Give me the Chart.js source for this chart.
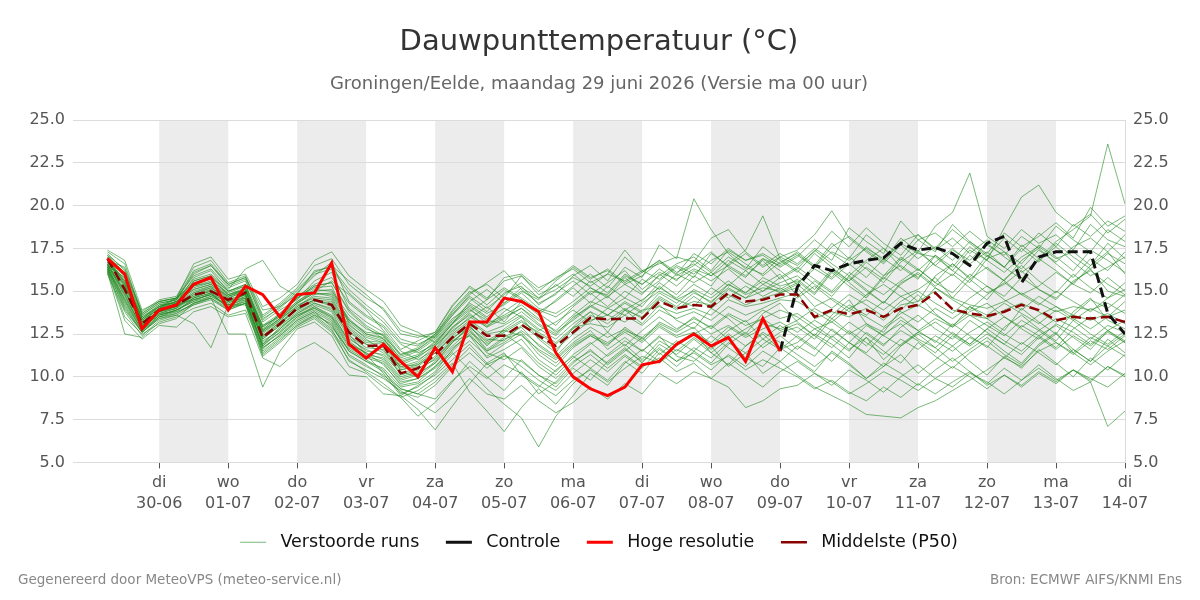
<!DOCTYPE html>
<html>
<head>
<meta charset="utf-8">
<title>Dauwpunttemperatuur</title>
<script src="https://cdn.jsdelivr.net/npm/chart.js@4.4.1/dist/chart.umd.min.js"></script>
<style>
  html, body { margin: 0; padding: 0; background: #fff; }
  #wrap { position: relative; width: 1200px; height: 600px; font-family: "DejaVu Sans", sans-serif; }
  .foot { position: absolute; top: 571px; font-size: 13.5px; color: #888; }
</style>
</head>
<body>
<div id="wrap">
  <canvas id="chart" width="1200" height="600"></canvas>
  <div class="foot" style="left:18px">Gegenereerd door MeteoVPS (meteo-service.nl)</div>
  <div class="foot" style="right:18px">Bron: ECMWF AIFS/KNMI Ens</div>
</div>
<script>
// hours after 29-06 00:00, every 6 h
const hours = [6, 12, 18, 24, 30, 36, 42, 48, 54, 60, 66, 72, 78, 84, 90, 96, 102, 108, 114, 120,
  126, 132, 138, 144, 150, 156, 162, 168, 174, 180, 186, 192, 198, 204, 210, 216, 222, 228, 234, 240,
  246, 252, 258, 264, 270, 276, 282, 288, 294, 300, 306, 312, 318, 324, 330, 336, 342, 348, 354, 360];

const tickHours = [24, 48, 72, 96, 120, 144, 168, 192, 216, 240, 264, 288, 312, 336, 360];
const tickDays = ["di", "wo", "do", "vr", "za", "zo", "ma", "di", "wo", "do", "vr", "za", "zo", "ma", "di"];
const tickDates = ["30-06", "01-07", "02-07", "03-07", "04-07", "05-07", "06-07", "07-07", "08-07", "09-07", "10-07", "11-07", "12-07", "13-07", "14-07"];
const shadeStart = [24, 72, 120, 168, 216, 264, 312];

// Hoge resolutie (to 09-07)
const hires = [16.9, 16.0, 12.8, 13.9, 14.2, 15.4, 15.8, 13.9, 15.3, 14.8, 13.5, 14.8, 14.9, 16.65,
  11.9, 11.1, 11.9, 10.9, 10.0, 11.7, 10.3, 13.2, 13.2, 14.6, 14.4, 13.8, 11.4, 10.0, 9.3, 8.9,
  9.4, 10.7, 10.9, 11.9, 12.5, 11.8, 12.3, 10.9, 13.4, 11.5];

// Controle, visible from 09-07 on
const controleStart = 240;
const controle = [11.5, 15.25, 16.5, 16.2, 16.6, 16.8, 16.95, 17.8, 17.4, 17.55, 17.2, 16.5, 17.8, 18.2,
  15.5, 17.0, 17.3, 17.3, 17.3, 13.7, 12.5];

const p50 = [16.9, 15.1, 13.1, 13.9, 14.2, 14.8, 15.0, 14.5, 14.9, 12.3, 13.1, 14.0, 14.5, 14.2,
  12.6, 11.8, 11.85, 10.2, 10.5, 11.3, 12.3, 13.1, 12.4, 12.4, 13.05, 12.4, 11.8, 12.6, 13.45, 13.35,
  13.4, 13.4, 14.4, 14.0, 14.2, 14.1, 14.9, 14.4, 14.5, 14.8,
  14.8, 13.5, 13.9, 13.65, 13.9, 13.5, 14.0, 14.2, 14.9, 13.95, 13.7, 13.55, 13.8, 14.2, 13.9, 13.3,
  13.5, 13.4, 13.5, 13.2];

// verstoorde runs
const runs = [
  [16.5,15.8,13.0,13.7,14.0,15.6,15.9,14.8,15.2,13.0,13.5,14.3,15.0,15.6, 14.8,13.9,12.7,11.5,11.0,11.6,12.9,13.8,14.5,15.2,14.6,13.9,13.5,14.2,15.0,14.8,15.9,15.4,16.1,15.7,16.3,15.9,16.8,16.2,16.9,16.5, 17.1,16.4,17.3,16.8,17.5,16.9,17.8,17.2,17.0,16.2,17.4,16.8,16.1,17.0,17.6,16.9,17.3,16.5,17.8,16.9],
  [16.2,14.0,12.6,13.5,13.8,14.2,14.6,13.9,14.3,11.4,12.2,13.0,13.6,13.1, 11.2,10.6,10.1,9.3,9.0,8.7,9.8,10.6,9.9,10.7,10.2,9.5,8.9,9.8,10.4,9.7,10.5,11.2,10.8,11.6,11.1,10.4,11.3,10.6,11.5,10.9, 11.8,11.2,12.4,11.6,12.3,11.0,11.9,12.6,12.1,11.5,12.3,11.8,11.1,12.0,11.4,10.7,11.6,10.9,11.8,11.2],
  [17.3,16.6,13.6,14.3,14.5,16.1,16.5,15.4,15.8,13.9,14.1,14.8,16.2,16.4, 15.1,14.2,13.4,12.2,11.9,12.4,13.8,14.9,15.4,14.6,15.9,14.8,15.3,16.0,15.2,14.6,15.8,14.9,15.6,16.4,15.8,17.2,16.5,15.9,16.8,15.7, 16.3,17.4,16.6,15.9,16.8,17.5,16.4,15.7,17.1,16.2,15.5,16.9,17.3,16.1,16.8,17.6,16.7,15.9,16.4,17.0],
  [16.4,14.6,12.9,13.8,14.1,14.9,15.3,14.2,14.7,12.0,12.8,13.7,14.2,13.8, 12.0,11.4,11.0,9.8,10.1,10.9,12.0,13.0,11.8,12.8,13.5,12.2,11.4,12.9,13.8,12.6,13.9,13.1,14.2,13.3,12.8,14.0,13.4,12.5,13.7,14.3, 13.2,12.4,13.6,14.5,13.1,12.6,13.9,14.8,13.7,12.9,14.1,13.4,12.7,14.0,13.2,12.5,13.8,14.6,13.3,12.8],
  [16.8,15.3,13.3,14.0,14.4,15.1,15.4,14.6,15.0,12.6,13.4,14.1,14.8,14.9, 13.4,12.5,12.3,10.8,11.2,12.1,13.2,14.0,13.1,13.6,14.2,13.4,12.6,13.3,14.1,14.7,13.9,14.5,15.2,14.6,15.4,14.8,15.6,14.9,15.8,15.3, 15.6,14.8,16.1,15.3,14.6,15.8,15.2,14.4,15.9,16.6,15.7,14.9,15.4,16.2,15.1,14.6,15.5,16.3,15.0,14.7],
  [16.1,12.5,12.3,13.2,13.5,14.0,14.3,13.6,13.9,11.6,12.5,13.3,13.8,12.9, 11.6,11.0,10.4,9.0,9.4,10.2,11.3,12.1,11.2,11.9,12.5,11.3,10.6,11.7,12.4,11.8,12.9,12.2,13.0,12.4,12.9,11.8,12.7,13.3,12.2,13.0, 12.3,11.6,12.8,12.0,11.4,12.5,13.1,12.2,11.7,12.6,11.9,12.8,12.1,11.5,12.4,13.0,12.3,11.6,12.7,12.0],
  [17.0,15.9,13.4,14.2,14.3,15.8,16.2,15.0,15.4,13.2,13.9,14.5,15.6,16.1, 14.0,13.2,12.6,11.3,11.6,12.4,13.6,14.6,13.8,14.9,15.3,14.2,14.9,15.6,14.8,15.5,16.2,15.1,15.9,16.6,17.0,16.2,17.4,16.8,17.1,16.4, 17.0,18.0,17.2,16.5,17.6,16.8,18.1,17.3,18.8,19.6,21.9,18.2,17.5,18.6,17.8,18.3,17.4,18.9,18.0,17.6],
  [16.6,15.0,13.1,13.9,14.2,14.5,14.8,14.4,14.6,12.2,13.0,13.8,14.3,14.0, 12.5,11.3,10.2,8.9,8.1,6.9,8.3,9.6,10.8,9.9,11.0,10.1,9.4,10.5,9.8,10.9,11.7,10.8,11.9,11.3,12.2,11.4,10.7,11.8,12.5,11.6, 12.4,11.7,10.9,12.0,11.3,10.6,11.8,12.5,11.7,10.9,11.6,12.3,11.5,10.8,11.9,12.6,11.4,10.7,11.5,12.1],
  [16.9,15.5,13.5,14.1,14.6,15.3,15.6,14.9,15.3,12.9,13.6,14.6,15.2,15.3, 13.1,12.2,11.5,10.6,10.9,11.8,12.7,13.4,14.1,13.2,14.4,13.6,14.5,15.3,16.0,15.2,16.4,15.8,17.7,16.9,20.4,18.6,17.2,16.3,17.6,16.8, 16.1,17.2,16.4,15.6,16.7,15.9,17.0,16.3,15.5,16.6,15.8,17.1,16.4,15.7,16.9,16.2,15.4,16.5,17.3,16.0],
  [16.3,14.3,12.7,13.6,13.9,14.4,14.9,14.0,14.5,11.9,12.9,13.6,14.0,13.5, 11.9,11.4,10.7,9.6,9.9,10.5,11.4,10.4,9.3,8.4,7.6,5.9,7.7,8.9,10.2,9.5,10.8,11.6,10.9,11.9,12.6,11.4,12.2,11.1,10.6,11.7, 11.0,10.3,11.5,10.8,9.9,10.6,11.3,10.2,11.0,11.8,10.9,10.1,11.2,10.5,11.6,10.8,10.0,11.1,10.4,11.3],
  [16.7,15.4,13.2,13.8,14.3,15.0,15.3,14.7,15.1,12.5,13.3,14.2,14.6,14.5, 12.9,12.1,12.0,10.5,10.8,11.6,12.6,13.5,12.9,13.8,14.5,13.7,13.0,14.1,14.9,14.1,15.0,14.4,15.5,14.8,15.9,15.3,16.6,17.4,19.4,16.9, 16.2,15.4,14.7,15.9,15.1,14.3,15.5,16.0,15.2,14.6,15.7,16.4,15.6,14.8,15.3,16.1,15.4,14.9,15.8,15.0],
  [16.0,13.8,12.4,13.3,13.6,13.1,11.7,14.2,14.2,11.2,12.0,12.9,13.4,12.6, 11.0,10.3,9.6,8.8,9.2,9.9,10.8,9.1,8.0,6.8,8.2,9.3,8.4,9.6,10.5,9.8,10.9,10.2,11.4,10.6,11.5,10.8,11.9,12.6,11.7,12.4, 11.6,12.5,11.9,11.1,12.3,11.5,10.8,12.0,11.2,10.5,11.4,12.1,11.3,10.7,11.8,12.5,11.6,10.9,12.2,11.4],
  [17.2,16.2,13.7,14.4,14.6,15.9,16.3,15.2,15.6,13.4,14.0,14.9,15.9,16.7, 14.4,13.6,13.0,11.9,11.4,11.9,13.1,14.2,13.5,14.3,15.0,14.5,15.4,14.7,15.6,14.9,16.0,15.4,16.3,15.6,16.8,16.1,17.0,16.4,16.0,17.0, 17.4,18.3,19.7,18.1,17.3,16.6,17.7,16.9,17.6,16.8,17.9,17.1,16.4,17.5,16.7,17.8,17.0,16.3,17.2,16.6],
  [16.5,14.8,12.8,13.7,14.0,14.6,14.9,14.3,14.8,12.1,12.7,13.5,14.1,13.6, 12.2,11.6,11.2,10.0,10.3,11.1,12.1,12.8,11.6,12.3,12.9,11.8,11.1,12.0,12.7,11.6,12.3,11.5,12.4,11.2,10.9,11.8,10.6,11.4,10.2,10.9, 10.1,9.4,8.9,8.4,7.8,7.7,7.6,8.2,8.6,9.2,9.8,10.4,11.1,10.6,11.5,12.0,11.3,12.1,11.6,12.4],
  [16.9,15.6,13.4,14.1,14.4,15.4,15.7,14.8,15.1,12.8,13.5,14.4,15.1,15.0, 13.6,12.8,12.4,11.0,11.3,12.0,13.1,13.9,13.3,13.1,13.8,13.0,12.4,13.4,14.2,13.6,14.4,13.8,14.9,14.3,15.1,14.6,15.4,14.9,15.6,15.1, 15.7,14.9,16.2,15.5,14.7,15.9,16.5,15.8,16.7,17.5,16.6,17.3,16.4,17.7,16.9,17.9,18.6,19.4,23.6,20.1],
  [16.4,14.2,12.6,13.4,13.7,14.3,14.7,14.1,14.4,11.8,12.6,13.4,13.9,13.3, 11.7,11.1,10.8,9.5,9.7,10.6,11.7,12.4,11.1,11.6,12.2,11.0,10.3,11.3,12.0,11.2,11.9,11.0,12.1,11.5,12.3,11.6,12.5,11.8,12.6,12.0, 11.3,10.6,11.4,10.7,9.9,10.8,10.2,9.5,10.4,11.1,10.3,9.6,10.5,9.8,10.7,9.9,9.2,9.7,7.1,8.0],
  [16.8,16.4,13.8,14.5,14.7,16.4,16.8,15.5,15.9,13.6,14.3,15.2,16.5,16.9, 15.4,14.6,14.0,12.7,12.4,12.3,13.6,14.8,15.5,16.2,15.1,14.3,14.8,15.9,16.5,15.6,17.0,16.1,16.8,15.9,16.5,17.3,16.4,15.8,16.9,16.2, 15.4,16.5,15.8,17.0,16.3,15.5,16.7,17.4,16.5,15.9,17.1,16.3,15.6,16.8,17.5,16.6,15.8,16.9,16.2,17.3],
  [16.2,13.5,12.5,13.1,13.4,14.3,14.6,12.5,12.5,9.4,11.5,12.8,13.2,12.4, 10.6,10.2,9.4,8.8,7.7,8.5,9.7,10.9,10.0,9.2,10.3,9.0,9.7,10.8,11.6,10.7,11.5,12.3,11.3,12.1,11.5,12.4,11.7,11.0,11.9,12.6, 12.9,12.2,13.4,12.6,11.8,12.8,13.5,12.7,12.0,13.1,12.4,11.7,12.9,13.6,12.8,12.1,13.3,12.5,11.9,12.7],
  [16.7,15.2,13.0,13.9,14.2,14.8,15.2,14.5,14.9,12.4,13.2,14.0,14.5,14.4, 12.8,12.0,11.9,10.4,10.6,11.4,12.4,13.2,12.5,12.7,13.3,12.5,11.9,12.8,13.6,13.1,13.9,13.5,14.6,14.0,14.4,14.2,15.1,14.6,15.0,15.5, 15.9,15.1,16.3,15.6,16.4,15.7,16.9,16.2,17.1,16.4,17.6,16.8,18.7,20.5,21.2,19.6,18.8,19.5,18.4,19.2],
  [16.6,14.9,13.1,13.9,14.1,14.7,15.0,14.4,14.8,12.3,13.1,14.0,14.5,14.1, 12.4,11.7,11.6,10.1,10.4,11.2,12.2,13.1,12.2,12.1,13.0,12.3,11.6,12.5,13.3,13.6,13.2,13.9,14.1,13.7,14.0,13.6,14.5,14.1,14.3,14.6, 14.9,13.4,13.8,13.5,14.0,13.3,14.2,14.4,15.0,13.9,13.6,13.4,13.9,14.3,13.8,13.2,13.6,13.3,13.7,13.1],
  [17.1,16.0,13.5,14.2,14.5,15.7,16.0,15.1,16.3,16.8,15.3,14.7,15.4,15.8, 14.3,13.5,12.9,11.6,12.1,12.6,14.1,15.3,14.6,15.6,15.9,15.0,15.8,16.3,15.5,16.0,17.4,16.2,15.7,16.5,16.0,16.8,17.3,16.6,15.9,16.7, 17.2,16.4,17.6,18.2,17.4,16.7,17.9,18.3,17.5,18.6,17.8,17.0,18.1,17.3,18.4,17.6,18.9,18.2,19.1,18.5],
  [16.3,14.4,12.7,13.5,13.9,14.5,14.8,14.1,14.6,11.7,12.4,13.2,13.7,13.0, 11.5,10.9,10.5,9.4,9.6,10.3,11.6,12.6,11.9,12.5,11.8,10.8,10.1,11.1,11.9,12.6,11.8,12.7,13.5,12.8,13.4,12.9,13.7,13.2,13.9,13.4, 13.7,13.0,12.3,13.2,12.5,11.8,12.9,13.6,12.8,12.2,13.3,12.6,11.9,13.0,12.4,11.7,12.8,13.5,12.7,12.1],
  [16.8,15.7,13.3,14.0,14.6,15.5,15.8,15.0,15.4,12.7,13.7,14.6,15.3,15.5, 13.8,12.9,12.2,11.1,11.5,12.2,13.3,14.3,13.7,14.2,14.9,14.0,13.7,14.4,15.2,14.7,15.4,14.8,16.0,15.3,16.2,15.6,16.3,15.5,15.0,15.8, 16.4,15.7,15.0,16.1,15.4,14.8,15.6,16.3,15.5,14.9,16.0,15.3,14.7,15.8,15.1,14.5,15.6,16.2,15.4,14.8],
  [16.5,14.7,12.9,13.6,13.9,14.4,14.7,14.2,14.5,11.5,12.3,13.1,13.6,12.8, 10.9,10.4,9.9,9.2,8.5,7.9,8.8,9.9,9.0,8.7,9.5,8.6,7.9,8.5,9.4,8.7,9.6,9.0,10.2,9.6,10.3,9.9,10.8,10.1,9.4,10.3, 10.9,10.2,9.5,10.4,9.8,9.1,10.0,10.7,9.9,9.4,10.2,9.7,9.0,9.8,10.5,9.8,10.4,9.7,10.6,10.1],
  [17.0,16.1,13.6,14.3,14.5,16.0,16.5,15.3,15.7,13.3,14.1,15.0,16.0,16.3, 14.9,14.0,13.2,12.0,11.8,12.5,13.9,15.0,14.2,15.1,14.5,13.8,14.4,15.2,14.3,15.3,14.6,15.7,15.1,16.0,15.5,16.1,15.3,16.2,15.4,16.0, 14.7,15.6,14.9,15.8,15.0,14.3,15.4,16.1,15.3,16.0,15.2,14.5,15.7,16.5,15.6,14.9,16.0,15.2,14.6,15.5],
  [16.6,15.1,13.0,13.8,14.0,14.8,15.1,14.5,14.8,12.4,13.2,13.9,14.4,14.3, 12.7,11.9,11.4,10.3,10.0,10.8,12.0,12.9,12.0,12.6,13.2,12.6,12.0,12.9,13.1,12.9,13.6,13.0,13.9,13.4,13.8,13.3,14.1,13.6,14.0,14.5, 14.4,13.8,13.2,14.0,13.5,12.9,13.7,14.2,13.6,13.0,13.8,14.3,13.5,12.9,13.6,14.1,13.4,12.8,13.5,13.9],
  [16.9,15.4,13.2,14.0,14.3,15.2,15.5,14.7,15.1,12.7,13.4,14.3,14.9,14.7, 13.2,12.4,12.1,10.7,11.1,11.9,12.9,13.6,13.0,13.5,14.0,13.3,12.7,13.6,14.4,14.0,14.6,14.1,15.3,14.5,15.0,14.3,15.4,14.8,15.2,15.0, 15.5,16.3,15.7,16.6,15.8,16.9,16.2,17.3,16.5,17.4,16.8,17.8,17.0,16.3,17.4,16.7,17.6,18.1,17.3,18.3],
  [16.4,14.5,12.8,13.7,13.8,14.6,14.9,14.0,14.4,11.9,12.6,13.5,14.0,13.4, 11.8,11.2,10.9,9.7,9.9,10.6,11.5,12.5,11.4,11.0,11.7,10.6,9.9,10.9,11.5,10.8,11.6,10.9,11.7,10.9,11.4,10.7,11.2,10.4,11.0,10.5, 10.0,9.3,9.8,9.1,8.6,9.4,8.8,9.6,9.0,9.7,10.3,9.5,10.1,9.4,10.2,9.6,10.4,9.8,10.6,10.0],
  [16.7,15.3,13.1,13.9,14.3,14.9,15.2,14.6,15.0,12.6,13.3,14.1,14.7,14.6, 13.0,12.3,12.0,10.6,10.7,11.5,12.5,13.3,12.6,13.0,13.6,12.8,12.2,13.1,13.8,13.3,14.0,13.4,14.5,13.9,14.7,14.0,14.8,14.2,14.6,14.9, 15.2,14.1,14.6,14.0,14.5,13.9,14.7,15.1,15.8,14.6,14.2,14.0,14.4,14.9,14.3,13.8,14.1,13.9,14.3,13.7],
  [16.2,13.9,12.6,13.4,13.6,14.2,14.5,13.9,14.3,11.3,12.1,13.0,13.5,12.7, 11.3,10.7,10.0,9.1,8.8,9.5,10.6,11.4,10.5,11.3,10.6,9.8,9.2,10.2,11.0,10.3,11.2,10.5,11.6,10.9,11.7,11.1,12.0,11.4,12.2,11.6, 12.0,12.8,12.2,11.5,12.6,11.9,12.7,12.1,11.4,12.4,11.8,12.5,11.9,11.3,12.3,11.6,12.4,11.8,12.6,12.0],
  [17.4,16.8,13.9,14.4,14.6,16.6,17.0,15.7,16.0,14.1,14.6,15.4,16.8,17.3, 15.9,15.1,14.4,13.0,12.6,12.0,13.1,14.4,15.1,14.3,15.2,14.6,15.6,16.4,15.7,16.3,15.5,16.1,16.8,16.1,16.6,15.9,16.5,17.2,16.4,17.0, 16.5,17.3,18.5,17.6,18.7,17.8,17.1,18.3,17.4,18.1,17.2,18.0,17.3,16.6,17.7,17.0,16.2,17.4,16.8,16.1],
  [16.1,13.3,12.2,13.0,12.9,13.8,14.1,13.5,13.7,11.1,10.6,11.5,12.0,11.3, 10.1,10.0,9.0,8.9,9.5,10.1,11.0,11.9,10.8,11.4,10.1,9.4,10.4,11.2,10.5,11.3,12.1,11.5,12.3,11.8,12.5,13.0,12.2,12.8,13.4,12.7, 13.1,12.4,11.7,12.7,12.0,11.3,12.2,11.6,12.4,11.8,12.6,13.2,12.5,11.9,12.7,12.0,11.4,12.3,11.8,12.5],
  [16.7,15.6,13.3,14.1,14.4,15.3,15.5,14.8,15.1,12.9,13.6,14.4,15.0,15.1, 13.3,12.6,12.5,11.2,11.6,12.3,13.4,14.1,13.4,14.0,13.5,12.7,13.2,13.9,13.2,14.0,13.6,14.3,15.0,14.5,14.1,15.2,14.6,15.3,14.7,15.2, 14.6,15.3,14.5,13.8,14.8,15.4,14.7,14.1,15.2,14.5,13.9,14.8,15.5,14.8,14.2,15.0,14.4,13.8,14.6,15.1],
  [16.5,15.0,13.0,13.8,14.1,14.7,15.0,14.3,14.7,12.2,13.0,13.7,14.3,13.9, 12.3,11.5,11.3,10.2,10.5,11.0,12.1,12.4,11.5,12.0,12.7,11.9,11.2,12.2,12.9,12.3,12.8,12.1,13.2,12.7,13.5,12.8,13.6,13.0,13.4,13.9, 13.5,12.8,13.2,12.5,13.1,12.4,13.3,12.7,13.4,12.9,13.6,13.0,12.4,13.3,12.7,13.4,12.9,12.2,13.0,12.6],
  [17.0,15.8,13.4,14.1,14.4,15.6,15.9,15.0,15.3,13.0,13.7,14.6,15.3,15.5, 13.9,13.0,12.4,11.3,11.7,12.5,13.7,14.7,14.0,14.8,15.5,14.6,15.1,15.8,15.3,16.0,15.6,16.2,16.6,17.0,16.7,18.1,18.6,17.3,16.5,17.2, 16.6,17.5,16.8,18.7,17.9,17.2,19.1,18.0,18.4,17.6,18.5,17.7,17.1,18.2,17.5,18.8,18.0,17.3,18.6,17.9],
  [16.3,14.1,12.6,13.5,13.7,14.3,14.6,14.0,14.3,11.7,12.4,13.3,13.8,13.2, 11.5,10.9,10.3,9.3,9.0,9.7,10.7,11.7,10.7,11.2,10.9,10.1,9.6,10.6,11.3,10.5,11.3,10.6,11.1,10.3,10.8,9.9,9.4,8.2,8.6,9.3, 9.5,10.2,9.7,9.0,9.6,10.3,9.8,9.2,9.9,10.6,10.0,9.3,10.1,9.5,10.3,9.7,10.4,9.9,9.4,10.2],
  [16.8,15.5,13.2,14.0,14.4,15.1,15.4,14.7,15.0,12.7,13.4,14.3,14.9,14.8, 13.3,12.5,12.2,10.9,11.2,11.8,12.8,13.7,12.9,13.4,14.0,13.1,12.5,13.5,14.1,13.6,14.3,13.7,14.7,14.1,14.9,14.4,15.2,14.6,15.4,14.9, 15.4,14.6,14.0,14.8,14.2,13.5,14.4,15.0,14.3,13.7,14.6,15.3,14.5,13.9,14.7,14.1,13.6,14.5,14.0,14.8],
  [16.6,14.8,12.9,13.8,14.1,14.6,15.1,14.4,14.8,12.3,13.1,13.9,14.5,14.2, 12.6,11.9,11.7,10.4,10.7,11.4,12.3,12.9,12.1,12.7,12.4,11.6,11.0,11.9,12.5,12.0,12.7,12.3,13.1,12.6,13.2,12.5,13.0,12.4,13.1,12.8, 13.3,14.0,13.4,14.2,13.6,14.4,13.8,13.2,14.0,13.4,14.1,13.6,14.3,13.7,13.1,13.9,13.3,14.0,13.5,14.4],
  [17.1,16.3,13.7,14.4,14.6,16.2,16.6,15.4,15.8,13.5,14.2,15.1,16.1,16.5, 15.6,14.8,13.9,12.5,12.3,12.6,14.2,15.2,14.5,15.8,16.0,15.2,15.7,16.5,15.8,16.2,15.4,15.9,16.7,16.0,17.2,16.6,17.5,16.8,17.2,16.6, 17.3,16.5,17.8,16.9,18.3,17.5,16.8,18.0,17.3,18.9,17.9,17.2,18.4,17.6,18.2,19.0,18.1,19.9,18.8,19.4],
  [16.4,14.5,12.7,13.6,13.9,14.5,14.8,14.2,14.6,11.8,12.8,13.6,14.1,13.5, 12.1,11.3,11.1,9.9,10.2,10.8,11.8,12.7,11.5,12.2,12.6,11.5,10.8,11.8,12.4,11.9,12.6,12.0,12.9,12.3,12.6,12.0,12.9,12.3,12.8,13.2, 12.6,13.3,12.7,12.0,13.0,12.4,11.8,12.6,13.2,12.5,11.9,12.8,13.5,12.8,12.2,13.1,12.6,11.9,12.7,13.3]
];

const legendOrder = ["Verstoorde runs", "Controle", "Hoge resolutie", "Middelste (P50)"];

Chart.defaults.font.family = "'DejaVu Sans', sans-serif";

const toPoints = (vals, from) => {
  const start = hours.indexOf(from);
  return vals.map((v, i) => ({ x: hours[start + i], y: v }));
};

const datasets = runs.map((r, i) => ({
  label: i === 0 ? "Verstoorde runs" : "",
  data: toPoints(r, 6),
  borderColor: "rgba(34, 139, 34, 0.6)",
  borderWidth: 1,
  order: 10,
}));
datasets.push({
  label: "Middelste (P50)",
  data: toPoints(p50, 6),
  borderColor: "#8b0000",
  borderWidth: 2.5,
  borderDash: [10, 5],
  order: 3,
});
datasets.push({
  label: "Controle",
  data: toPoints(controle, controleStart),
  borderColor: "#111",
  borderWidth: 3,
  borderDash: [10, 5],
  order: 2,
});
datasets.push({
  label: "Hoge resolutie",
  data: toPoints(hires, 6),
  borderColor: "#ff0000",
  borderWidth: 3,
  order: 1,
});

// grey bands on alternate days
const dayBands = {
  id: "dayBands",
  beforeDraw(chart) {
    const { ctx, chartArea, scales } = chart;
    ctx.save();
    ctx.fillStyle = "#ececec";
    shadeStart.forEach((h) => {
      const x0 = scales.x.getPixelForValue(h);
      const x1 = scales.x.getPixelForValue(h + 24);
      ctx.fillRect(x0, chartArea.top, x1 - x0, chartArea.bottom - chartArea.top);
    });
    ctx.restore();
  },
};

const yTicks = {
  color: "#555",
  font: { size: 16 },
  padding: 8,
  stepSize: 2.5,
  callback: (v) => v.toFixed(1),
};

// legend: one entry for the runs, fixed order, a bit of air round the text.
// the legend line is stroked there and back, so the dash has to be symmetric
const legendItems = (chart) =>
  Chart.defaults.plugins.legend.labels.generateLabels(chart)
    .filter((item) => item.text !== "")
    .sort((a, b) => legendOrder.indexOf(a.text) - legendOrder.indexOf(b.text))
    .map((item, i, all) => {
      item.text = " " + item.text + (i < all.length - 1 ? "  " : "");
      if (item.lineDash && item.lineDash.length) item.lineDash = [11, 4, 11, 0];
      return item;
    });

new Chart(document.getElementById("chart"), {
  type: "line",
  data: { datasets },
  plugins: [dayBands],
  options: {
    responsive: false,
    animation: false,
    devicePixelRatio: 1,
    layout: { padding: { left: 28, right: 30, bottom: 39 } },
    elements: { point: { radius: 0 }, line: { tension: 0 } },
    plugins: {
      title: {
        display: true,
        text: "Dauwpunttemperatuur (°C)",
        color: "#333",
        font: { size: 29, weight: "normal" },
        padding: { top: 25, bottom: 14 },
      },
      subtitle: {
        display: true,
        text: "Groningen/Eelde, maandag 29 juni 2026 (Versie ma 00 uur)",
        color: "#666",
        font: { size: 18 },
        padding: { top: 0, bottom: 24.6 },
      },
      legend: {
        position: "bottom",
        labels: {
          usePointStyle: true,
          pointStyle: "line",
          pointStyleWidth: 26,
          padding: 15.5,
          color: "#111",
          font: { size: 17.5 },
          generateLabels: legendItems,
        },
      },
      tooltip: { enabled: false },
    },
    scales: {
      x: {
        type: "linear",
        min: -6,
        max: 360,
        afterBuildTicks: (axis) => {
          axis.ticks = tickHours.map((h) => ({ value: h }));
        },
        grid: { drawOnChartArea: false, drawTicks: true, tickLength: 6, color: "#555" },
        border: { display: false },
        ticks: {
          color: "#555",
          font: { size: 16, lineHeight: 1.3 },
          padding: 4,
          maxRotation: 0,
          autoSkip: false,
          callback: (v) => {
            const i = tickHours.indexOf(v);
            return [tickDays[i], tickDates[i]];
          },
        },
      },
      y: {
        position: "left",
        min: 5,
        max: 25,
        grid: { color: "#dcdcdc", drawTicks: false },
        border: { display: false },
        ticks: yTicks,
        afterFit: (axis) => { axis.width = 45; },
      },
      y2: {
        position: "right",
        min: 5,
        max: 25,
        grid: { drawOnChartArea: false, drawTicks: false },
        border: { display: true, color: "#dcdcdc" },
        ticks: yTicks,
        afterFit: (axis) => { axis.width = 45; },
      },
    },
  },
});
</script>
</body>
</html>
